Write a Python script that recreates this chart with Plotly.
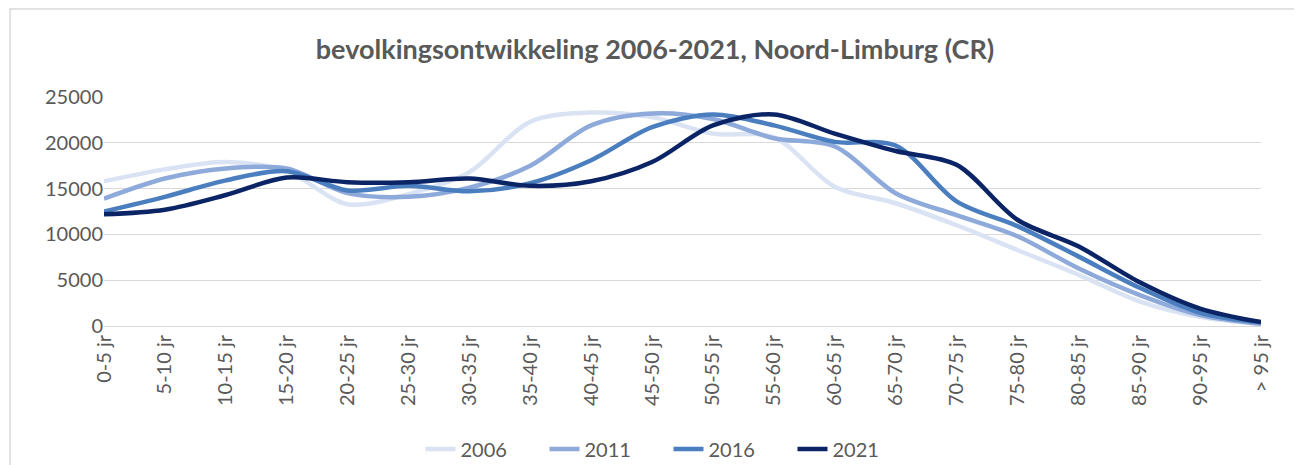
import plotly.graph_objects as go

# age groups on the x axis
categories = ["0-5 jr", "5-10 jr", "10-15 jr", "15-20 jr", "20-25 jr", "25-30 jr",
              "30-35 jr", "35-40 jr", "40-45 jr", "45-50 jr", "50-55 jr", "55-60 jr",
              "60-65 jr", "65-70 jr", "70-75 jr", "75-80 jr", "80-85 jr", "85-90 jr",
              "90-95 jr", "> 95 jr"]

# population per age group
pop_2006 = [15800, 17100, 17900, 16900, 13300, 14400, 16800, 22300, 23300, 22800,
            21000, 20600, 15200, 13400, 11000, 8300, 5600, 2700, 1000, 200]
pop_2011 = [13900, 16100, 17200, 17200, 14500, 14100, 15100, 17500, 21900, 23200,
            22600, 20500, 19600, 14500, 12100, 9800, 6300, 3400, 1200, 250]
pop_2016 = [12500, 14100, 15900, 16900, 14800, 15300, 14700, 15600, 18100, 21700,
            23100, 21900, 20100, 19700, 13600, 10900, 7600, 4200, 1450, 400]
pop_2021 = [12200, 12700, 14300, 16200, 15700, 15700, 16100, 15300, 15800, 17900,
            21900, 23100, 21000, 19100, 17600, 11600, 8700, 4800, 1900, 420]

years = ["2006", "2011", "2016", "2021"]
series = [pop_2006, pop_2011, pop_2016, pop_2021]
colors = ["#dae3f3", "#8eaadb", "#4a7ebe", "#0a2466"]

fig = go.Figure()
for name, vals, col in zip(years, series, colors):
    fig.add_trace(go.Scatter(x=list(range(len(categories))), y=vals, name=name, mode="lines",
                             line=dict(color=col, width=4.5, shape="spline", smoothing=0.9)))

# page has an 8px body margin, so the figure is sized to fit the window
W, H = 1294, 457
font_grey = "#595959"
fig.update_layout(
    width=W, height=H,
    margin=dict(l=96, r=41, t=89, b=139, autoexpand=False),
    paper_bgcolor="white", plot_bgcolor="white",
    font=dict(family="Lato, Carlito, sans-serif", color=font_grey, size=20),
    title=dict(text="<b>bevolkingsontwikkeling 2006-2021, Noord-Limburg (CR)</b>",
               x=0.5, xanchor="center", yref="container", y=1 - 42 / H, yanchor="middle",
               font=dict(size=27, color=font_grey)),
    xaxis=dict(tickmode="array", tickvals=list(range(len(categories))), ticktext=categories,
               tickangle=-90, range=[0, len(categories) - 1], showgrid=False,
               showline=True, linecolor="#d9d9d9", ticks="", zeroline=False,
               tickfont=dict(size=20), automargin=False),
    yaxis=dict(range=[0, 25000], dtick=5000, tickformat="d", showgrid=True, gridcolor="#d9d9d9",
               gridwidth=1, zeroline=False, showline=False, tickfont=dict(size=20),
               automargin=False),
    legend=dict(orientation="h", x=0.5 - 14 / 1157, xanchor="center", yref="container",
                y=1 - 441 / H, yanchor="middle", font=dict(size=20), traceorder="normal",
                entrywidth=79),
    showlegend=True,
)

# outer chart border like the source
fig.add_shape(type="rect", xref="paper", yref="paper", x0=-0.0812, x1=1.031, y0=-0.7, y1=1.384,
              line=dict(color="#d9d9d9", width=1.5), layer="below")

fig.write_html("out.html")
